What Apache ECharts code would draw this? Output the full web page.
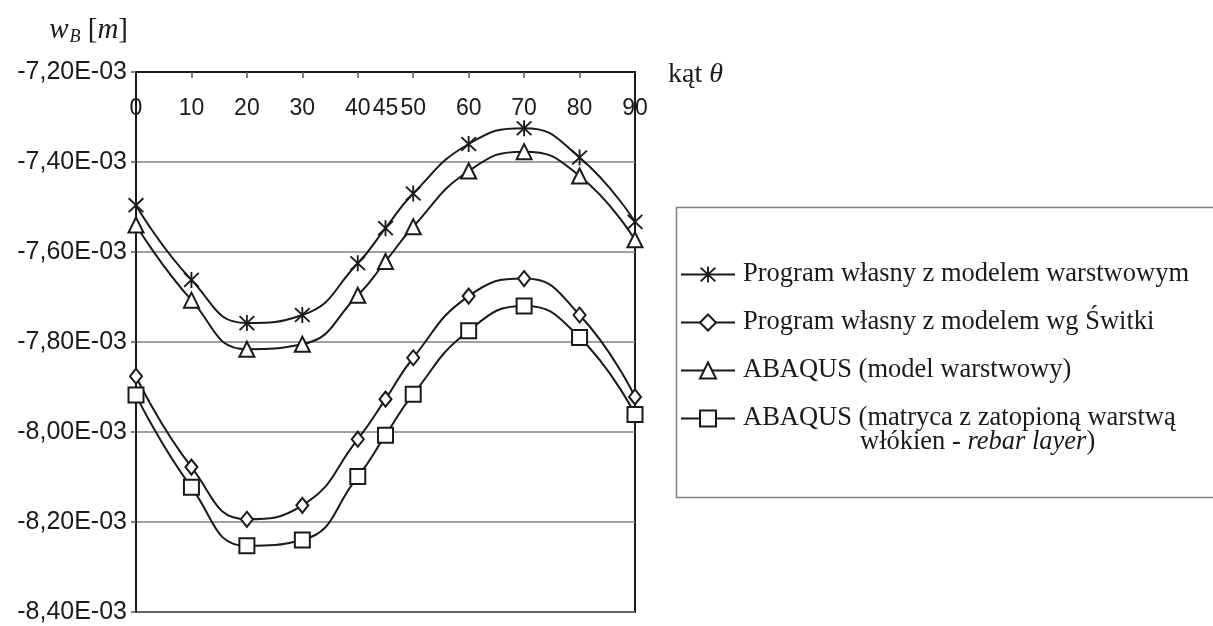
<!DOCTYPE html>
<html>
<head>
<meta charset="utf-8">
<title>w_B</title>
<script src="https://cdn.jsdelivr.net/npm/echarts@6.0.0/dist/echarts.min.js"></script>
<style>
	html, body { margin: 0; padding: 0; background: #fff; }
	#chart1 { width: 1213px; height: 626px; }
</style>
</head>
<body>
<div id="chart1"></div>
<script>
	// kąt theta (oś X)
	var thetas = [ 0, 10, 20, 30, 40, 45, 50, 60, 70, 80, 90 ];
	var thetaLabels = [ 0, 10, 20, 30, 40, 45, 50, 60, 70, 80, 90 ];
	var thetaTicks = [ 10, 20, 30, 40, 50, 60, 70, 80 ];

	// ugięcie w_B, w jednostkach E-03 m
	var wlasnyWarstwowy = [ -7.496, -7.662, -7.758, -7.740, -7.625, -7.547, -7.470, -7.360, -7.325, -7.390, -7.533 ];
	var wlasnySwitka = [ -7.876, -8.078, -8.194, -8.163, -8.016, -7.927, -7.835, -7.698, -7.659, -7.740, -7.922 ];
	var abaqusWarstwowy = [ -7.540, -7.707, -7.816, -7.805, -7.696, -7.621, -7.544, -7.420, -7.377, -7.431, -7.573 ];
	var abaqusRebar = [ -7.918, -8.123, -8.253, -8.240, -8.099, -8.007, -7.916, -7.775, -7.720, -7.790, -7.961 ];

	var names = [
		'Program własny z modelem warstwowym',
		'Program własny z modelem wg Świtki',
		'ABAQUS (model warstwowy)',
		'ABAQUS (matryca z zatopioną warstwą włókien - rebar layer)'
	];

	// gwiazdka (pion + dwie przekątne)
	var asterisk = 'path://M8.9 0L11.1 0L11.1 20L8.9 20Z'
		+ 'M0.5 2.1L2.1 0.5L19.5 17.9L17.9 19.5Z'
		+ 'M17.9 0.5L19.5 2.1L2.1 19.5L0.5 17.9Z';

	function pairs(ys) {
		var out = [];
		for (var i = 0; i < thetas.length; i++) {
			out.push([ thetas[i], ys[i] ]);
		}
		return out;
	}

	function makeSeries(name, ys, symbol, size, filled) {
		return {
			name : name,
			type : 'line',
			data : pairs(ys),
			smooth : 0.5,
			clip : false,
			symbol : symbol,
			symbolSize : size,
			showAllSymbol : true,
			lineStyle : { color : '#1a1a1a', width : 2 },
			itemStyle : filled ? { color : '#1a1a1a', borderWidth : 0 }
				: { color : '#fff', borderColor : '#1a1a1a', borderWidth : 2 }
		};
	}

	var serif = 'Liberation Serif';
	var sans = 'Liberation Sans';

	var chart1 = echarts.init(document.getElementById('chart1'));

	var option1 = {
		animation : false,
		backgroundColor : '#fff',
		grid : {
			left : 136, top : 72, width : 499, height : 540,
			show : true, borderColor : '#1a1a1a', borderWidth : 2
		},
		legend : {
			orient : 'vertical',
			left : 680, top : 261,
			padding : 0,
			itemGap : 21,
			itemWidth : 54,
			itemHeight : 20,
			data : names,
			lineStyle : { width : 2, color : '#1a1a1a' },
			formatter : function(n) {
				if (n === names[3]) {
					return 'ABAQUS (matryca z zatopioną warstwą';
				}
				return n;
			},
			textStyle : {
				fontFamily : serif, fontSize : 26.5, color : '#1a1a1a',
				lineHeight : 25, padding : [ 0, 0, 0, 3 ]
			}
		},
		graphic : [ {
			type : 'rect',
			left : 674, top : 205,
			shape : { width : 600, height : 290 },
			style : { fill : 'none', stroke : '#808080', lineWidth : 1.5 },
			z : -1
		}, {
			type : 'text',
			left : 860, top : 429,
			style : {
				text : '{n|włókien - }{i|rebar layer}{n|)}',
				rich : {
					n : { fontFamily : serif, fontSize : 26.5, fill : '#1a1a1a' },
					i : { fontFamily : serif, fontSize : 26.5, fontStyle : 'italic', fill : '#1a1a1a' }
				}
			}
		} ],
		xAxis : {
			type : 'value',
			position : 'top',
			min : 0, max : 90,
			name : '{n|kąt }{i|θ}',
			nameLocation : 'end',
			nameGap : 33,
			nameTextStyle : {
				padding : [ 5, 0, 0, 0 ],
				rich : {
					n : { fontFamily : serif, fontSize : 28, color : '#1a1a1a' },
					i : { fontFamily : serif, fontSize : 28, fontStyle : 'italic', color : '#1a1a1a' }
				}
			},
			axisLine : { show : true, lineStyle : { color : '#1a1a1a', width : 2 } },
			axisTick : {
				show : true, inside : true, length : 6,
				customValues : thetaTicks,
				lineStyle : { color : '#555', width : 1.5 }
			},
			axisLabel : {
				inside : true, margin : 25,
				customValues : thetaLabels,
				showMinLabel : true, showMaxLabel : true, hideOverlap : false,
				fontFamily : sans, fontSize : 23, color : '#1a1a1a'
			},
			splitLine : { show : false }
		},
		yAxis : {
			type : 'value',
			min : -8.4, max : -7.2, interval : 0.2,
			name : '{i|w}{s|B}{n| [}{i|m}{n|]}',
			nameLocation : 'end',
			nameGap : 42,
			nameTextStyle : {
				align : 'right',
				verticalAlign : 'middle',
				padding : [ 0, 8, 0, 0 ],
				rich : {
					n : { fontFamily : serif, fontSize : 29, color : '#1a1a1a' },
					i : { fontFamily : serif, fontSize : 29, fontStyle : 'italic', color : '#1a1a1a' },
					s : { fontFamily : serif, fontSize : 18, fontStyle : 'italic', color : '#1a1a1a', padding : [ 14, 0, 0, 1 ] }
				}
			},
			axisLine : { show : true, lineStyle : { color : '#1a1a1a', width : 2 } },
			axisTick : { show : true, length : 5, lineStyle : { color : '#555', width : 1.5 } },
			axisLabel : {
				margin : 9,
				fontFamily : sans, fontSize : 25, color : '#1a1a1a',
				formatter : function(v) {
					return v.toFixed(2).replace('.', ',') + 'E-03';
				}
			},
			splitLine : { show : true, lineStyle : { color : '#808080', width : 1.5 } }
		},
		series : [
			makeSeries(names[0], wlasnyWarstwowy, asterisk, 16, true),
			makeSeries(names[1], wlasnySwitka, 'diamond', [ 12, 15 ], false),
			makeSeries(names[2], abaqusWarstwowy, 'triangle', 15, false),
			makeSeries(names[3], abaqusRebar, 'rect', 15, false)
		]
	};

	chart1.setOption(option1);
</script>
</body>
</html>
